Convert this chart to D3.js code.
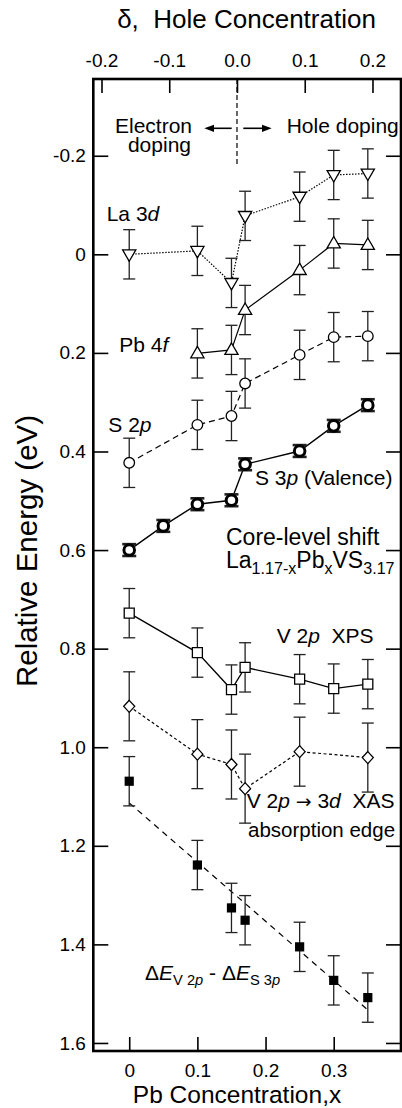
<!DOCTYPE html>
<html>
<head>
<meta charset="utf-8">
<script src="https://cdn.jsdelivr.net/npm/d3@7"></script>
<style>
  body { margin: 0; background: #fff; }
  svg text { font-family: 'Liberation Sans', Arial, Helvetica, sans-serif; fill: #000; white-space: pre; }
</style>
</head>
<body>
<svg id="chart" width="402" height="1108"></svg>
<script>
// tick values
const pbTicks = [0, 0.1, 0.2, 0.3]
const deltaTicks = [-0.2, -0.1, 0.0, 0.1, 0.2]
const energyTicks = [-0.2, 0, 0.2, 0.4, 0.6, 0.8, 1.0, 1.2, 1.4, 1.6]

// La 3d (down triangles, dotted)
const la3dX = [0, 0.1, 0.15, 0.17, 0.25, 0.3, 0.35]
const la3dE = [0.0, -0.007, 0.058, -0.078, -0.117, -0.161, -0.164]
const la3dErr = 0.05
// Pb 4f (up triangles, solid)
const pb4fX = [0.1, 0.15, 0.17, 0.25, 0.3, 0.35]
const pb4fE = [0.201, 0.194, 0.113, 0.032, -0.022, -0.019]
const pb4fErr = 0.05
// S 2p (open circles, dashed)
const s2pX = [0, 0.1, 0.15, 0.17, 0.25, 0.3, 0.35]
const s2pE = [0.423, 0.346, 0.328, 0.262, 0.204, 0.168, 0.166]
const s2pErr = 0.05
// S 3p valence (bold circles, solid)
const s3pX = [0, 0.05, 0.1, 0.15, 0.17, 0.25, 0.3, 0.35]
const s3pE = [0.600, 0.551, 0.507, 0.499, 0.426, 0.399, 0.348, 0.306]
const s3pErr = 0.012
// V 2p XPS (open squares, solid)
const v2pX = [0, 0.1, 0.15, 0.17, 0.25, 0.3, 0.35]
const v2pE = [0.728, 0.808, 0.883, 0.838, 0.862, 0.881, 0.872]
const v2pErr = 0.05
// V 2p -> 3d XAS (open diamonds, dotted)
const xasX = [0, 0.1, 0.15, 0.17, 0.25, 0.35]
const xasE = [0.917, 1.014, 1.035, 1.084, 1.009, 1.021]
const xasErr = 0.07
// dE V2p - dE S3p (filled squares) and its straight fit
const dEX = [0, 0.1, 0.15, 0.17, 0.25, 0.3, 0.35]
const dEE = [1.069, 1.239, 1.326, 1.351, 1.405, 1.473, 1.508]
const dEErr = 0.05
const fitX = [0, 0.35]
const fitE = [1.113, 1.533]

;(function(){

  const svg = d3.select('#chart')
  const L = 93.3, R = 401, T = 79, B = 1051

  const x = d3.scaleLinear().domain([-0.0527, 0.3987]).range([L, R])
  const delta = d3.scaleLinear().domain([-0.2121, 0.2421]).range([L, R])
  const y = d3.scaleLinear().domain([-0.3557, 1.6163]).range([T, B])

  const fmt = d => d === 0 ? '0' : d3.format('.1f')(d).replace('\u2212', '-')

  // axes, ticks pointing inward
  function styleAxis(g) {
    g.select('.domain').remove()
    g.selectAll('.tick line').attr('stroke', '#000').attr('stroke-width', 1.6)
    g.selectAll('.tick text').attr('font-size', 19).attr('fill', '#000')
      .attr('font-family', "'Liberation Sans', Arial, sans-serif")
  }

  svg.append('g').attr('transform', `translate(0,${B})`)
    .call(d3.axisBottom(x).tickValues(pbTicks).tickFormat(fmt)
      .tickSizeInner(-14).tickSizeOuter(0).tickPadding(12.5))
    .call(styleAxis)

  svg.append('g').attr('transform', `translate(0,${T})`)
    .call(d3.axisTop(delta).tickValues(deltaTicks).tickFormat(d => d3.format('.1f')(d).replace('\u2212', '-'))
      .tickSizeInner(-14).tickSizeOuter(0).tickPadding(12.5))
    .call(styleAxis)

  svg.append('g').attr('transform', `translate(${L},0)`)
    .call(d3.axisLeft(y).tickValues(energyTicks).tickFormat(fmt)
      .tickSizeInner(-15).tickSizeOuter(0).tickPadding(7.5))
    .call(styleAxis)

  svg.append('g').attr('transform', `translate(${R},0)`)
    .call(d3.axisRight(y).tickValues(energyTicks).tickFormat('')
      .tickSizeInner(-15).tickSizeOuter(0))
    .call(styleAxis)

  // frame
  svg.append('rect').attr('x', L).attr('y', T)
    .attr('width', R - L).attr('height', B - T)
    .attr('fill', 'none').attr('stroke', '#000').attr('stroke-width', 2.6)

  // axis titles
  svg.append('text').attr('x', 246.5).attr('y', 28.3)
    .attr('text-anchor', 'middle').attr('font-size', 26)
    .text('\u03b4,  Hole Concentration')
  svg.append('text').attr('x', 237).attr('y', 1102.5)
    .attr('text-anchor', 'middle').attr('font-size', 24.5)
    .text('Pb Concentration,x')
  svg.append('text').attr('transform', 'translate(37,551) rotate(-90)')
    .attr('text-anchor', 'middle').attr('font-size', 29.5)
    .text('Relative Energy (eV)')

  // doping divider and arrows
  svg.append('line')
    .attr('x1', delta(0)).attr('x2', delta(0)).attr('y1', T).attr('y2', 165)
    .attr('stroke', '#000').attr('stroke-width', 1.2).attr('stroke-dasharray', '5,3')

  const ay = 128.3
  svg.append('line').attr('x1', 231.7).attr('x2', 210).attr('y1', ay).attr('y2', ay)
    .attr('stroke', '#000').attr('stroke-width', 1.6)
  svg.append('path').attr('d', `M204.3,${ay}L214,${ay - 3.6}L214,${ay + 3.6}Z`)
  svg.append('line').attr('x1', 243.3).attr('x2', 265).attr('y1', ay).attr('y2', ay)
    .attr('stroke', '#000').attr('stroke-width', 1.6)
  svg.append('path').attr('d', `M271.7,${ay}L262,${ay - 3.6}L262,${ay + 3.6}Z`)

  svg.append('text').attr('x', 192).attr('y', 132.5).attr('text-anchor', 'end')
    .attr('font-size', 21).text('Electron')
  svg.append('text').attr('x', 191).attr('y', 152).attr('text-anchor', 'end')
    .attr('font-size', 21).text('doping')
  svg.append('text').attr('x', 286.7).attr('y', 132.5)
    .attr('font-size', 21).text('Hole doping')

  // markers
  function shape(type) {
    switch (type) {
      case 'down': return 'M0,7L-6.6,-4.4L6.6,-4.4Z'
      case 'up': return 'M0,-7L-6.6,4.4L6.6,4.4Z'
      case 'square': return 'M-5,-5H5V5H-5Z'
      case 'fsquare': return 'M-4.6,-4.6H4.6V4.6H-4.6Z'
      case 'diamond': return 'M0,-6L5.5,0L0,6L-5.5,0Z'
      default: return d3.symbol(d3.symbolCircle, Math.PI * 5.3 * 5.3)()
    }
  }

  const series = [
    { xs: la3dX, es: la3dE, err: la3dErr, type: 'down', dash: '1.5,1.5', lw: 1.2, mw: 1.3, cap: 6, bw: 1.3 },
    { xs: pb4fX, es: pb4fE, err: pb4fErr, type: 'up', dash: null, lw: 1.2, mw: 1.3, cap: 6, bw: 1.3 },
    { xs: s2pX, es: s2pE, err: s2pErr, type: 'circle', dash: '6,4', lw: 1.2, mw: 1.3, cap: 6, bw: 1.3 },
    { xs: s3pX, es: s3pE, err: s3pErr, type: 'circle', dash: null, lw: 1.4, mw: 3, cap: 7, bw: 2.6 },
    { xs: v2pX, es: v2pE, err: v2pErr, type: 'square', dash: null, lw: 1.3, mw: 1.3, cap: 6, bw: 1.3 },
    { xs: xasX, es: xasE, err: xasErr, type: 'diamond', dash: '3,2.5', lw: 1.2, mw: 1.3, cap: 6, bw: 1.3 },
    { xs: dEX, es: dEE, err: dEErr, type: 'fsquare', dash: null, lw: 0, mw: 0, cap: 6, bw: 1.3 }
  ]

  const line = d3.line().x(d => x(d[0])).y(d => y(d[1]))

  // dashed fit line through the filled squares
  svg.append('path').datum(d3.zip(fitX, fitE))
    .attr('d', line).attr('fill', 'none').attr('stroke', '#000')
    .attr('stroke-width', 1.2).attr('stroke-dasharray', '6,5')

  series.forEach(s => {
    const pts = d3.zip(s.xs, s.es)
    const g = svg.append('g')
    if (s.lw > 0) {
      g.append('path').datum(pts).attr('d', line)
        .attr('fill', 'none').attr('stroke', '#000').attr('stroke-width', s.lw)
        .attr('stroke-dasharray', s.dash)
    }
    const bars = g.selectAll('g.bar').data(pts).enter().append('g').attr('class', 'bar')
      .attr('stroke', '#222').attr('stroke-width', s.bw)
    bars.append('line')
      .attr('x1', d => x(d[0])).attr('x2', d => x(d[0]))
      .attr('y1', d => y(d[1] - s.err)).attr('y2', d => y(d[1] + s.err))
    bars.append('line')
      .attr('x1', d => x(d[0]) - s.cap).attr('x2', d => x(d[0]) + s.cap)
      .attr('y1', d => y(d[1] - s.err)).attr('y2', d => y(d[1] - s.err))
    bars.append('line')
      .attr('x1', d => x(d[0]) - s.cap).attr('x2', d => x(d[0]) + s.cap)
      .attr('y1', d => y(d[1] + s.err)).attr('y2', d => y(d[1] + s.err))
    g.selectAll('path.mark').data(pts).enter().append('path').attr('class', 'mark')
      .attr('transform', d => `translate(${x(d[0])},${y(d[1])})`)
      .attr('d', shape(s.type))
      .attr('fill', s.type === 'fsquare' ? '#000' : '#fff')
      .attr('stroke', '#000').attr('stroke-width', s.mw)
  })

  // labels with italic / subscript parts ('a' = arrow glyph)
  function rich(px, py, size, parts) {
    const t = svg.append('text').attr('x', px).attr('y', py).attr('font-size', size)
    let shift = 0
    parts.forEach(([str, st]) => {
      const sub = st.includes('s')
      const target = sub ? size * 0.24 : 0
      const sp = t.append('tspan').attr('dy', target - shift).text(str)
      shift = target
      if (sub) sp.attr('font-size', size * 0.7)
      if (st.includes('i')) sp.attr('font-style', 'italic')
      if (st.includes('a')) sp.attr('font-family', "'DejaVu Sans', sans-serif").attr('font-size', size * 0.9)
    })
    return t
  }

  rich(106.7, 220.5, 21, [['La 3', ''], ['d', 'i']])
  rich(119.3, 351.7, 21, [['Pb 4', ''], ['f', 'i']])
  rich(108.3, 431.7, 21, [['S 2', ''], ['p', 'i']])
  rich(255, 485, 21, [['S 3', ''], ['p', 'i'], [' (Valence)', '']])
  rich(226, 545, 23, [['Core-level shift', '']])
  rich(226, 568, 23, [['La', ''], ['1.17-x', 's'], ['Pb', ''], ['x', 's'], ['VS', ''], ['3.17', 's']])
  rich(276.7, 643.3, 21, [['V 2', ''], ['p', 'i'], ['  XPS', '']])
  rich(246.7, 808.3, 21, [['V 2', ''], ['p', 'i'], [' ', ''], ['\u2192', 'a'], [' 3', ''], ['d', 'i'], ['  XAS', '']])
  rich(248, 837, 20.5, [['absorption edge', '']])
  rich(145, 980, 21, [['\u0394', ''], ['E', 'i'], ['V 2', 's'], ['p', 'si'], [' - \u0394', ''], ['E', 'i'], ['S 3', 's'], ['p', 'si']])

})()
</script>
</body>
</html>
